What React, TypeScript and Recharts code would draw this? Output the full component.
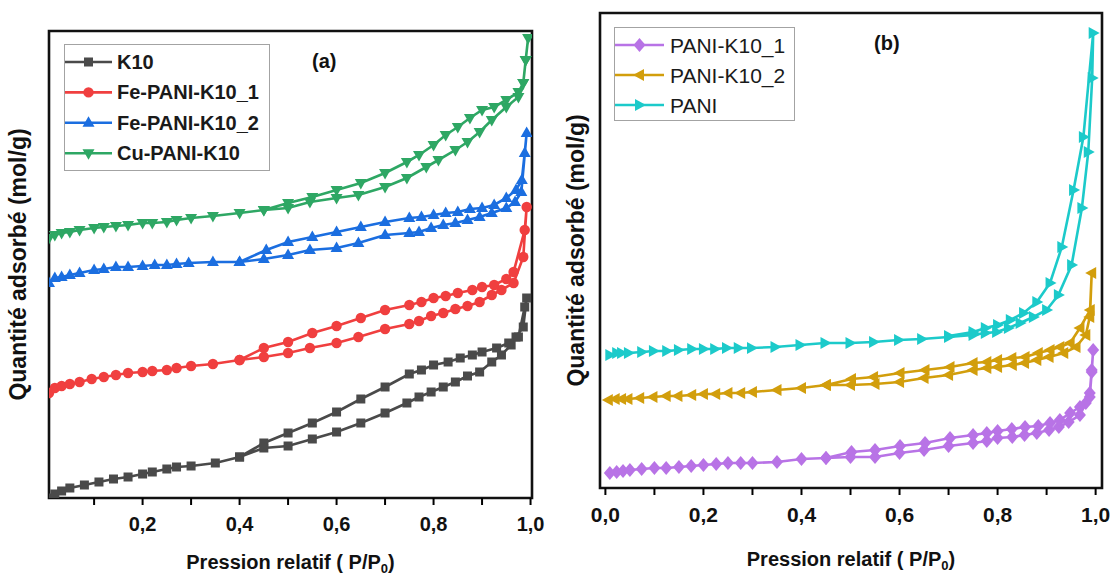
import { LineChart, Line, XAxis, YAxis, ReferenceArea, Label } from 'recharts';

// relative pressure P/P0 and adsorbed amount (arbitrary units).
// each pair runs up the adsorption branch, then back down the desorption branch.

// (a)
const K10_P = [0.007, 0.019, 0.033, 0.05, 0.08, 0.11, 0.14, 0.17, 0.2, 0.22, 0.25, 0.27, 0.3, 0.35, 0.4, 0.45, 0.5, 0.55, 0.6, 0.65, 0.7, 0.745, 0.77, 0.795, 0.82, 0.845, 0.87, 0.895, 0.92, 0.94, 0.96, 0.97, 0.985, 0.992,
  0.988, 0.975, 0.955, 0.93, 0.9, 0.88, 0.855, 0.83, 0.8, 0.775, 0.75, 0.7, 0.65, 0.6, 0.55, 0.5, 0.45, 0.4];
const K10_Q = [0, 4, 7, 10, 13, 16, 19, 21, 24, 26, 29, 31, 32, 35, 41, 50, 52, 59, 66, 75, 85, 95, 101, 106, 111, 116, 122, 126, 136, 143, 153, 161, 171, 200,
  191, 161, 155, 150, 146, 143, 140, 136, 133, 128, 124, 111, 99, 86, 75, 65, 55, 41];

const FE1_P = [0.007, 0.019, 0.033, 0.05, 0.07, 0.095, 0.12, 0.145, 0.17, 0.2, 0.22, 0.25, 0.27, 0.3, 0.345, 0.4, 0.45, 0.5, 0.545, 0.6, 0.645, 0.7, 0.75, 0.77, 0.795, 0.82, 0.845, 0.87, 0.895, 0.92, 0.94, 0.965, 0.985, 0.992,
  0.988, 0.965, 0.95, 0.925, 0.9, 0.88, 0.85, 0.825, 0.8, 0.775, 0.75, 0.7, 0.65, 0.6, 0.55, 0.5, 0.45, 0.4];
const FE1_Q = [105, 110, 112, 114, 116, 119, 121, 123, 125, 126, 127, 128, 130, 132, 134, 138, 141, 145, 150, 155, 161, 169, 174, 177, 182, 185, 189, 192, 196, 203, 208, 215, 241, 291,
  268, 226, 219, 213, 211, 208, 205, 202, 200, 196, 193, 188, 180, 172, 165, 156, 150, 138];

const FE2_P = [0.007, 0.019, 0.033, 0.05, 0.07, 0.1, 0.12, 0.145, 0.17, 0.2, 0.225, 0.25, 0.27, 0.295, 0.345, 0.4, 0.45, 0.5, 0.545, 0.6, 0.645, 0.7, 0.75, 0.77, 0.795, 0.82, 0.845, 0.87, 0.895, 0.92, 0.95, 0.968, 0.981, 0.992,
  0.988, 0.982, 0.97, 0.95, 0.925, 0.9, 0.875, 0.85, 0.825, 0.8, 0.775, 0.75, 0.7, 0.65, 0.6, 0.55, 0.5, 0.455, 0.4];
const FE2_Q = [215, 220, 221, 223, 225, 228, 229, 231, 231, 232, 233, 233, 234, 235, 236, 236, 239, 243, 248, 250, 255, 263, 265, 266, 270, 273, 275, 278, 281, 285, 290, 296, 306, 365,
  345, 318, 308, 300, 293, 290, 289, 286, 285, 283, 281, 280, 276, 271, 266, 261, 256, 248, 236];

const CU_P = [0.007, 0.019, 0.033, 0.05, 0.07, 0.1, 0.12, 0.145, 0.17, 0.2, 0.22, 0.25, 0.27, 0.3, 0.345, 0.4, 0.45, 0.5, 0.545, 0.6, 0.645, 0.7, 0.745, 0.785, 0.81, 0.845, 0.87, 0.895, 0.92, 0.95, 0.975, 0.985, 0.99, 0.995,
  0.99, 0.985, 0.975, 0.95, 0.925, 0.9, 0.875, 0.85, 0.825, 0.8, 0.77, 0.745, 0.7, 0.65, 0.6, 0.55, 0.5, 0.45];
const CU_Q = [260, 263, 265, 266, 268, 270, 271, 272, 273, 275, 275, 276, 278, 280, 282, 285, 288, 290, 296, 300, 303, 311, 320, 331, 338, 348, 356, 366, 378, 391, 401, 415, 438, 460,
  438, 415, 406, 398, 391, 388, 380, 371, 363, 353, 343, 336, 325, 315, 308, 301, 295, 288];

// (b)
const PK1_P = [0.009, 0.023, 0.036, 0.05, 0.074, 0.1, 0.124, 0.15, 0.175, 0.2, 0.226, 0.25, 0.276, 0.3, 0.35, 0.4, 0.45, 0.5, 0.55, 0.6, 0.65, 0.7, 0.75, 0.778, 0.8, 0.83, 0.855, 0.88, 0.905, 0.925, 0.945, 0.968, 0.98, 0.988, 0.992, 0.995,
  0.992, 0.988, 0.968, 0.948, 0.927, 0.907, 0.883, 0.856, 0.829, 0.8, 0.778, 0.75, 0.703, 0.652, 0.601, 0.55, 0.502, 0.45];
const PK1_Q = [15, 16, 17, 18, 19, 20, 20, 21, 22, 23, 24, 25, 25, 25, 26, 29, 30, 31, 31, 35, 38, 42, 45, 47, 50, 51, 53, 55, 58, 61, 66, 73, 85, 95, 118, 138,
  116, 91, 81, 75, 68, 65, 62, 61, 59, 57, 55, 53, 50, 45, 42, 38, 36, 30];

const PK2_P = [0.006, 0.02, 0.033, 0.046, 0.07, 0.097, 0.124, 0.148, 0.176, 0.2, 0.225, 0.25, 0.276, 0.3, 0.35, 0.4, 0.45, 0.5, 0.55, 0.6, 0.65, 0.7, 0.75, 0.778, 0.8, 0.83, 0.855, 0.88, 0.905, 0.935, 0.96, 0.98, 0.988, 0.992,
  0.989, 0.968, 0.948, 0.927, 0.907, 0.883, 0.856, 0.829, 0.8, 0.778, 0.75, 0.703, 0.652, 0.601, 0.547, 0.502, 0.451];
const PK2_Q = [88, 89, 89, 89, 90, 91, 92, 92, 93, 94, 94, 95, 95, 96, 98, 100, 103, 103, 104, 106, 110, 113, 118, 120, 121, 123, 125, 128, 131, 135, 141, 153, 171, 215,
  178, 160, 145, 141, 138, 135, 131, 130, 128, 126, 125, 121, 118, 115, 111, 109, 103];

const PANI_P = [0.009, 0.023, 0.033, 0.047, 0.074, 0.098, 0.125, 0.149, 0.176, 0.2, 0.223, 0.247, 0.271, 0.298, 0.346, 0.397, 0.448, 0.499, 0.547, 0.598, 0.645, 0.7, 0.75, 0.775, 0.798, 0.822, 0.846, 0.873, 0.9, 0.924, 0.951, 0.972, 0.985, 0.993, 0.995,
  0.975, 0.955, 0.931, 0.907, 0.88, 0.853, 0.826, 0.8, 0.775, 0.75, 0.7];
const PANI_Q = [133, 135, 135, 135, 136, 137, 137, 138, 139, 139, 139, 140, 140, 140, 141, 143, 145, 145, 146, 148, 149, 151, 153, 155, 156, 160, 165, 171, 178, 193, 223, 280, 336, 410, 455,
  351, 298, 241, 205, 186, 175, 168, 163, 160, 156, 152];

const TICKS_A = [0.1, 0.2, 0.3, 0.4, 0.5, 0.6, 0.7, 0.8, 0.9, 1.0];
const TICKS_B = [0, 0.1, 0.2, 0.3, 0.4, 0.5, 0.6, 0.7, 0.8, 0.9, 1.0];

const FONT = '"Liberation Sans", Arial, Helvetica, sans-serif';

type Shape = 'square' | 'circle' | 'up' | 'down' | 'diamond' | 'left' | 'right';

interface Series {
  name: string;
  p: number[];
  q: number[];
  color: string;
  shape: Shape;
}

const SERIES_A: Series[] = [
  { name: 'K10', p: K10_P, q: K10_Q, color: '#4a4a4a', shape: 'square' },
  { name: 'Fe-PANI-K10_1', p: FE1_P, q: FE1_Q, color: '#f03f3f', shape: 'circle' },
  { name: 'Fe-PANI-K10_2', p: FE2_P, q: FE2_Q, color: '#1b6ee0', shape: 'up' },
  { name: 'Cu-PANI-K10', p: CU_P, q: CU_Q, color: '#2ea764', shape: 'down' },
];

const SERIES_B: Series[] = [
  { name: 'PANI-K10_1', p: PK1_P, q: PK1_Q, color: '#b873e6', shape: 'diamond' },
  { name: 'PANI-K10_2', p: PK2_P, q: PK2_Q, color: '#d29e0c', shape: 'left' },
  { name: 'PANI', p: PANI_P, q: PANI_Q, color: '#1ccaca', shape: 'right' },
];

function Marker({ cx, cy, shape, color }: { cx?: number; cy?: number; shape: Shape; color: string }) {
  if (cx == null || cy == null) return null;
  const pts = (arr: number[][]) => arr.map(([dx, dy]) => `${cx + dx},${cy + dy}`).join(' ');
  switch (shape) {
    case 'square':
      return <rect x={cx - 4.5} y={cy - 4.5} width={9} height={9} fill={color} />;
    case 'circle':
      return <circle cx={cx} cy={cy} r={5.2} fill={color} />;
    case 'up':
      return <polygon points={pts([[0, -6.5], [6, 4], [-6, 4]])} fill={color} />;
    case 'down':
      return <polygon points={pts([[0, 6.5], [6, -4], [-6, -4]])} fill={color} />;
    case 'diamond':
      return <polygon points={pts([[0, -7], [6, 0], [0, 7], [-6, 0]])} fill={color} />;
    case 'left':
      return <polygon points={pts([[-6.5, 0], [4.5, -6], [4.5, 6]])} fill={color} />;
    case 'right':
      return <polygon points={pts([[6.5, 0], [-4.5, -6], [-4.5, 6]])} fill={color} />;
  }
  return null;
}

const toPoints = (s: Series) => s.p.map((x, i) => ({ x, y: s.q[i] }));

const fmtTick = (v: number) => {
  const k = Math.round(v * 10);
  return k % 2 === 0 ? (k / 10).toFixed(1).replace('.', ',') : '';
};

interface PanelProps {
  series: Series[];
  width: number;
  height: number;
  margin: { top: number; right: number; bottom: number; left: number };
  xDomain: [number, number];
  yMax: number;
  ticks: number[];
  yAxisWidth: number;
  xAxisHeight: number;
  tickFont: number;
  yTitleX: number;
  xTitleLift: number;
}

function Panel(props: PanelProps) {
  const { series, width, height, margin, xDomain, yMax, ticks, yAxisWidth, xAxisHeight, tickFont, yTitleX, xTitleLift } = props;

  const xTitle = ({ viewBox }: any) => {
    const { x, y, width: w, height: h } = viewBox;
    return (
      <text x={x + w / 2} y={y + h - xTitleLift} textAnchor="middle" fontFamily={FONT} fontWeight="bold" fontSize={20} fill="#111">
        Pression relatif ( P/P<tspan dy={4} fontSize={13}>0</tspan><tspan dy={-4}>)</tspan>
      </text>
    );
  };

  const yTitle = ({ viewBox }: any) => {
    const x = viewBox.x + yTitleX;
    const y = viewBox.y + viewBox.height / 2;
    return (
      <text x={x} y={y} transform={`rotate(-90 ${x} ${y})`} textAnchor="middle" dominantBaseline="central" fontFamily={FONT} fontWeight="bold" fontSize={23} fill="#111">
        Quantité adsorbé (mol/g)
      </text>
    );
  };

  return (
    <LineChart width={width} height={height} margin={margin}>
      <XAxis
        type="number"
        dataKey="x"
        domain={xDomain}
        allowDataOverflow
        ticks={ticks}
        interval={0}
        tickFormatter={fmtTick}
        tick={{ fontSize: tickFont, fontWeight: 'bold', fill: '#111', fontFamily: FONT }}
        tickSize={7}
        tickMargin={12}
        tickLine={{ stroke: '#000', strokeWidth: 2 }}
        axisLine={false}
        height={xAxisHeight}
      >
        <Label content={xTitle} />
      </XAxis>
      <YAxis type="number" domain={[0, yMax]} allowDataOverflow tick={false} tickLine={false} axisLine={false} width={yAxisWidth}>
        <Label content={yTitle} />
      </YAxis>
      {series.map((s) => (
        <Line
          key={s.name}
          data={toPoints(s)}
          dataKey="y"
          name={s.name}
          type="linear"
          stroke={s.color}
          strokeWidth={2.6}
          dot={(d: any) => <Marker key={`${s.name}-${d.index}`} cx={d.cx} cy={d.cy} shape={s.shape} color={s.color} />}
          activeDot={false}
          isAnimationActive={false}
        />
      ))}
      <ReferenceArea x1={xDomain[0]} x2={xDomain[1]} y1={0} y2={yMax} fill="none" stroke="#111" strokeWidth={2.6} />
    </LineChart>
  );
}

interface LegendProps {
  series: Series[];
  left: number;
  top: number;
  width: number;
  height: number;
  rowTop: number;
  rowGap: number;
  swatchEnd: number;
  textX: number;
  fontSize: number;
  bold: boolean;
}

function LegendBox({ series, left, top, width, height, rowTop, rowGap, swatchEnd, textX, fontSize, bold }: LegendProps) {
  return (
    <div style={{ position: 'absolute', left, top, width, height, border: '1px solid #a3a3a3', background: '#fff', boxSizing: 'border-box' }}>
      <svg width={width} height={height} style={{ position: 'absolute', left: -1, top: -1 }}>
        {series.map((s, i) => {
          const cy = rowTop + i * rowGap;
          return (
            <g key={s.name}>
              <line x1={1} x2={swatchEnd} y1={cy} y2={cy} stroke={s.color} strokeWidth={2.6} />
              <Marker cx={(1 + swatchEnd) / 2} cy={cy} shape={s.shape} color={s.color} />
              <text x={textX} y={cy} dominantBaseline="central" fontFamily={FONT} fontSize={fontSize} fontWeight={bold ? 'bold' : 'normal'} fill="#1a1a1a">
                {s.name}
              </text>
            </g>
          );
        })}
      </svg>
    </div>
  );
}

export default function App() {
  return (
    <div style={{ position: 'absolute', left: 0, top: 0, width: 1115, height: 575, background: '#fff', fontFamily: FONT, overflow: 'hidden' }}>
      <div style={{ position: 'absolute', left: 0, top: 0 }}>
        <Panel
          series={SERIES_A}
          width={560}
          height={575}
          margin={{ top: 31, right: 28, bottom: 0, left: 0 }}
          xDomain={[0.007, 1.003]}
          yMax={467}
          ticks={TICKS_A}
          yAxisWidth={49}
          xAxisHeight={77}
          tickFont={20}
          yTitleX={18}
          xTitleLift={6}
        />
      </div>
      <div style={{ position: 'absolute', left: 560, top: 0 }}>
        <Panel
          series={SERIES_B}
          width={555}
          height={575}
          margin={{ top: 13, right: 13, bottom: 0, left: 0 }}
          xDomain={[-0.011, 1.013]}
          yMax={475}
          ticks={TICKS_B}
          yAxisWidth={40}
          xAxisHeight={87}
          tickFont={21}
          yTitleX={16}
          xTitleLift={9}
        />
      </div>
      <LegendBox series={SERIES_A} left={64} top={44} width={206} height={127} rowTop={18} rowGap={30.4} swatchEnd={48} textX={53} fontSize={20} bold />
      <LegendBox series={SERIES_B} left={614} top={27} width={181} height={94} rowTop={18} rowGap={30} swatchEnd={50} textX={56} fontSize={21} bold={false} />
      <div style={{ position: 'absolute', left: 312, top: 49, fontSize: 20, fontWeight: 'bold', color: '#111', lineHeight: '24px' }}>(a)</div>
      <div style={{ position: 'absolute', left: 874, top: 31, fontSize: 20, fontWeight: 'bold', color: '#111', lineHeight: '24px' }}>(b)</div>
    </div>
  );
}
